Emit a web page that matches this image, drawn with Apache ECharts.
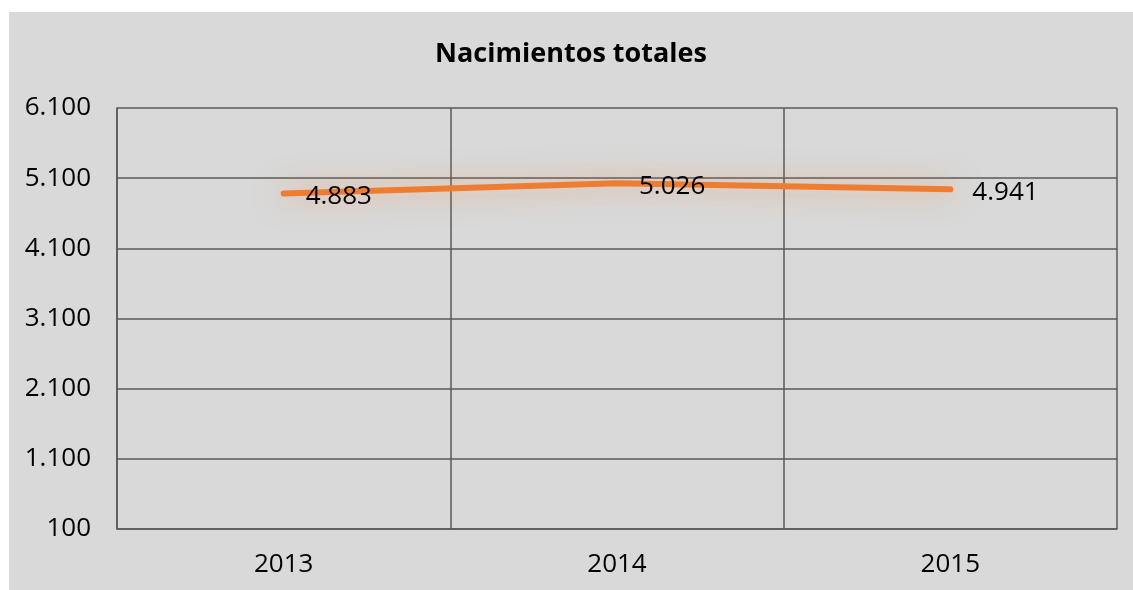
<!DOCTYPE html>
<html>
<head>
<meta charset="utf-8">
<script src="https://cdn.jsdelivr.net/npm/echarts@6/dist/echarts.min.js"></script>
<style>
  html, body { margin: 0; padding: 0; background: #ffffff; }
  #chart { position: absolute; left: 9px; top: 12px; width: 1124px; height: 578px; }
</style>
</head>
<body>
<div id="chart"></div>
<script>
// datos
var years = ['2013', '2014', '2015'];
var nacimientos = [4883, 5026, 4941];
var yTicks = [100, 6100, 1000]; // min, max, intervalo

// 4883 -> "4.883"
function fmtMiles(v) {
  return String(Math.round(v)).replace(/\B(?=(\d{3})+(?!\d))/g, '.');
}

var chart = echarts.init(document.getElementById('chart'));
var lineColor = '#595959';
var font = 'Open Sans';
var option = {
  backgroundColor: '#d9d9d9',
  animation: false,
  title: {
    text: 'Nacimientos totales',
    left: 'center',
    top: 24,
    textStyle: {
      fontFamily: font,
      fontSize: 27,
      fontWeight: 'bold',
      color: '#000'
    }
  },
  grid: {
    left: 108,
    right: 16,
    top: 96,
    bottom: 61
  },
  xAxis: {
    type: 'category',
    data: years,
    boundaryGap: true,
    axisLine: { show: true, lineStyle: { color: lineColor, width: 1.5 } },
    axisTick: { show: false },
    axisLabel: {
      margin: 23,
      fontFamily: font,
      fontSize: 26,
      color: '#000'
    },
    splitLine: {
      show: true,
      interval: 0,
      lineStyle: { color: lineColor, width: 1.5 }
    }
  },
  yAxis: {
    type: 'value',
    min: yTicks[0],
    max: yTicks[1],
    interval: yTicks[2],
    axisLine: { show: true, lineStyle: { color: lineColor, width: 1.5 } },
    axisTick: { show: false },
    axisLabel: {
      margin: 26,
      fontFamily: font,
      fontSize: 26,
      color: '#000',
      formatter: fmtMiles
    },
    splitLine: {
      show: true,
      lineStyle: { color: lineColor, width: 1.5 }
    }
  },
  series: [{
    name: 'Nacimientos',
    type: 'line',
    data: nacimientos,
    symbol: 'circle',
    symbolSize: 0,
    showSymbol: true,
    lineStyle: {
      color: '#ED7D31',
      width: 6,
      cap: 'round',
      shadowColor: 'rgba(237,125,49,0.7)',
      shadowBlur: 30
    },
    itemStyle: { color: '#ED7D31' },
    label: {
      show: true,
      position: 'right',
      distance: 22,
      offset: [0, 3],
      fontFamily: font,
      fontSize: 26,
      color: '#000',
      formatter: function (p) { return fmtMiles(p.value); }
    }
  }]
};
chart.setOption(option);
</script>
</body>
</html>
